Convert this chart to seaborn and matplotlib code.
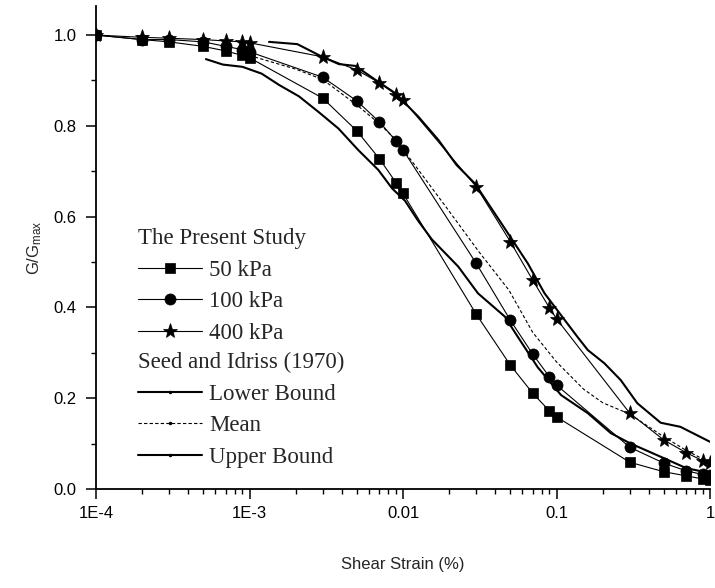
import numpy as np
import pandas as pd
import seaborn as sns
import matplotlib.pyplot as plt
from matplotlib.lines import Line2D
from matplotlib.ticker import LogLocator, NullFormatter, MultipleLocator
from matplotlib.font_manager import FontProperties

# --- Данные: результаты испытаний ---
strain = [1e-4, 2e-4, 3e-4, 5e-4, 7e-4, 9e-4, 1e-3, 3e-3, 5e-3, 7e-3, 9e-3, 0.01,
          0.03, 0.05, 0.07, 0.09, 0.1, 0.3, 0.5, 0.7, 0.9, 1.0]
g_50 = [1.0, 0.99, 0.985, 0.975, 0.965, 0.955, 0.95, 0.861, 0.789, 0.728, 0.675, 0.651,
        0.385, 0.273, 0.211, 0.172, 0.159, 0.059, 0.038, 0.029, 0.022, 0.02]
g_100 = [1.0, 0.99, 0.99, 0.985, 0.975, 0.968, 0.963, 0.907, 0.855, 0.809, 0.767, 0.747,
         0.497, 0.372, 0.297, 0.247, 0.229, 0.092, 0.057, 0.040, 0.032, 0.03]
g_400 = [1.0, 0.995, 0.993, 0.99, 0.987, 0.985, 0.983, 0.952, 0.923, 0.895, 0.869, 0.857,
         0.666, 0.545, 0.460, 0.399, 0.375, 0.167, 0.108, 0.080, 0.062, 0.057]

# --- Seed and Idriss (1970) ---
lower_x = [5.2e-4, 6.7e-4, 9e-4, 1.2e-3, 1.56e-3, 2.1e-3, 2.83e-3, 3.8e-3, 5.1e-3, 6.9e-3,
           8.5e-3, 0.0103, 0.0126, 0.0154, 0.0229, 0.0308, 0.046, 0.056, 0.0755, 0.107,
           0.16, 0.226, 0.30, 0.5, 0.7, 1.0]
lower_y = [0.947, 0.935, 0.930, 0.915, 0.89, 0.865, 0.83, 0.794, 0.747, 0.703,
           0.662, 0.635, 0.59, 0.55, 0.49, 0.431, 0.38, 0.335, 0.268, 0.207,
           0.167, 0.123, 0.101, 0.068, 0.046, 0.035]
mean_x = [1e-3, 2e-3, 3e-3, 5e-3, 7e-3, 9e-3, 0.0126, 0.019, 0.031, 0.049, 0.07, 0.1,
          0.15, 0.2, 0.3, 0.5, 0.7, 1.0]
mean_y = [0.955, 0.925, 0.902, 0.846, 0.805, 0.769, 0.703, 0.622, 0.524, 0.438, 0.345, 0.28,
          0.22, 0.19, 0.165, 0.115, 0.085, 0.058]
upper_x = [1.34e-3, 2.05e-3, 2.98e-3, 3.82e-3, 4.9e-3, 6.9e-3, 8.9e-3, 0.0126, 0.017, 0.0223,
           0.0294, 0.046, 0.065, 0.0836, 0.137, 0.16, 0.205, 0.262, 0.336, 0.477, 0.641, 1.0]
upper_y = [0.985, 0.980, 0.952, 0.936, 0.932, 0.897, 0.872, 0.820, 0.769, 0.714,
           0.673, 0.574, 0.497, 0.431, 0.335, 0.306, 0.277, 0.240, 0.189, 0.146, 0.137, 0.104]

xtick_vals = [1e-4, 1e-3, 0.01, 0.1, 1]
xtick_labels = ["1E-4", "1E-3", "0.01", "0.1", "1"]

sns.set_style("ticks", {"axes.edgecolor": "black", "xtick.color": "black", "ytick.color": "black"})
plt.rcParams['font.family'] = ['Liberation Sans', 'DejaVu Sans']
plt.rcParams['mathtext.fontset'] = 'custom'
plt.rcParams['mathtext.rm'] = 'Liberation Sans'
plt.rcParams['mathtext.it'] = 'Liberation Sans'

fig = plt.figure(figsize=(7.15, 5.88), dpi=100)
ax = fig.add_axes([96 / 715, 99 / 588, 614 / 715, 483 / 588])

line_kw = dict(color="black", linewidth=0.8, markeredgecolor="black", markeredgewidth=0.5)
sns.lineplot(x=strain, y=g_50, marker="s", markersize=7, ax=ax, legend=False, **line_kw)
sns.lineplot(x=strain, y=g_100, marker="o", markersize=8, ax=ax, legend=False, **line_kw)
sns.lineplot(x=strain, y=g_400, marker="*", markersize=11, ax=ax, legend=False, **line_kw)

sns.lineplot(x=lower_x, y=lower_y, color="black", linewidth=1.5, ax=ax, legend=False)
sns.lineplot(x=mean_x, y=mean_y, color="black", linewidth=0.8, linestyle=(0, (3, 2)), ax=ax, legend=False)
sns.lineplot(x=upper_x, y=upper_y, color="black", linewidth=1.5, ax=ax, legend=False)

ax.set_xscale("log")
ax.set_xlim(1e-4, 1)
ax.set_ylim(0, 1.064)
ax.set_xticks(xtick_vals, labels=xtick_labels)
ax.xaxis.set_minor_locator(LogLocator(base=10, subs=np.arange(2, 10)))
ax.xaxis.set_minor_formatter(NullFormatter())
ax.yaxis.set_major_locator(MultipleLocator(0.2))
ax.yaxis.set_minor_locator(MultipleLocator(0.1))
ax.yaxis.set_major_formatter(plt.FuncFormatter(lambda v, p: f"{v:.1f}"))
sns.despine(ax=ax)
for s in ["left", "bottom"]:
    ax.spines[s].set_linewidth(1.3)
ax.tick_params(which="major", length=7, width=1.1, labelsize=12, pad=5)
ax.tick_params(axis="y", which="major", pad=7)
ax.tick_params(which="minor", length=3.5, width=1.0)

ax.set_xlabel("Shear Strain (%)", fontsize=12, labelpad=26)
ax.set_ylabel("G/G$_{\\mathrm{max}}$", fontsize=12, labelpad=7)

# --- Легенда ---
serif = FontProperties(family="Liberation Serif", size=16.5)
h_test = [Line2D([], [], marker=m, markersize=ms, **line_kw)
          for m, ms in [("s", 7), ("o", 8), ("*", 11)]]
h_seed = [Line2D([], [], color="black", linewidth=1.5, marker=".", markersize=3),
          Line2D([], [], color="black", linewidth=0.8, linestyle=(0, (3, 2)), marker=".", markersize=3),
          Line2D([], [], color="black", linewidth=1.5, marker=".", markersize=3)]
leg_kw = dict(loc="upper left", bbox_transform=fig.transFigure, frameon=False, alignment="left",
              prop=serif, title_fontproperties=serif, handlelength=2.8, handletextpad=0.3,
              labelspacing=0.46, borderpad=0, borderaxespad=0)
leg1 = ax.legend(handles=h_test, labels=["50 kPa", "100 kPa", "400 kPa"],
                 title="The Present Study", bbox_to_anchor=(138 / 715, 1 - 228 / 588), **leg_kw)
ax.add_artist(leg1)
ax.legend(handles=h_seed, labels=["Lower Bound", "Mean", "Upper Bound"],
          title="Seed and Idriss (1970)", bbox_to_anchor=(138 / 715, 1 - 352 / 588), **leg_kw)

plt.savefig("out.png", dpi=100)
